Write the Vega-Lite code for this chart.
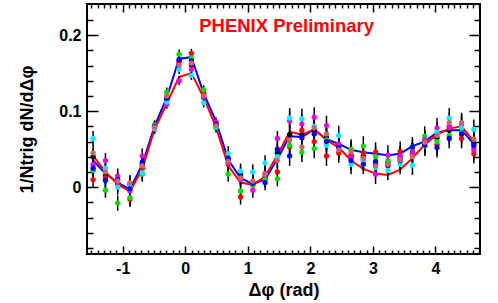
{
 "$schema": "https://vega.github.io/schema/vega-lite/v6.json",
 "width": 393, "height": 250,
 "padding": {"left": 18, "top": 3, "right": 5, "bottom": 5},
 "background": "white",
 "config": {"view": {"stroke": "black", "strokeWidth": 2}, "font": "Liberation Sans"},
 "datasets": {
  "lab": [{"x": 1.62, "y": 0.212, "t": "PHENIX Preliminary"}],
  "fits": [
   {"s":"fitB","x":-1.473,"y":0.035},{"s":"fitB","x":-1.276,"y":0.018},{"s":"fitB","x":-1.080,"y":0.006},{"s":"fitB","x":-0.884,"y":-0.003},
   {"s":"fitB","x":-0.687,"y":0.030},{"s":"fitB","x":-0.491,"y":0.080},{"s":"fitB","x":-0.295,"y":0.118},{"s":"fitB","x":-0.098,"y":0.169},
   {"s":"fitB","x":0.098,"y":0.171},{"s":"fitB","x":0.295,"y":0.123},{"s":"fitB","x":0.491,"y":0.087},{"s":"fitB","x":0.687,"y":0.036},
   {"s":"fitB","x":0.884,"y":0.012},{"s":"fitB","x":1.080,"y":0.004},{"s":"fitB","x":1.276,"y":0.010},{"s":"fitB","x":1.473,"y":0.037},
   {"s":"fitB","x":1.669,"y":0.067},{"s":"fitB","x":1.865,"y":0.066},{"s":"fitB","x":2.062,"y":0.076},{"s":"fitB","x":2.258,"y":0.063},
   {"s":"fitB","x":2.454,"y":0.057},{"s":"fitB","x":2.651,"y":0.049},{"s":"fitB","x":2.847,"y":0.046},{"s":"fitB","x":3.043,"y":0.044},
   {"s":"fitB","x":3.240,"y":0.042},{"s":"fitB","x":3.436,"y":0.044},{"s":"fitB","x":3.632,"y":0.054},{"s":"fitB","x":3.829,"y":0.060},
   {"s":"fitB","x":4.025,"y":0.072},{"s":"fitB","x":4.221,"y":0.075},{"s":"fitB","x":4.418,"y":0.075},{"s":"fitB","x":4.614,"y":0.057},
   {"s":"fitR","x":-1.473,"y":0.041},{"s":"fitR","x":-1.276,"y":0.020},{"s":"fitR","x":-1.080,"y":0.004},{"s":"fitR","x":-0.884,"y":-0.006},
   {"s":"fitR","x":-0.687,"y":0.024},{"s":"fitR","x":-0.491,"y":0.076},{"s":"fitR","x":-0.295,"y":0.110},{"s":"fitR","x":-0.098,"y":0.145},
   {"s":"fitR","x":0.098,"y":0.150},{"s":"fitR","x":0.295,"y":0.118},{"s":"fitR","x":0.491,"y":0.079},{"s":"fitR","x":0.687,"y":0.028},
   {"s":"fitR","x":0.884,"y":0.006},{"s":"fitR","x":1.080,"y":0.003},{"s":"fitR","x":1.276,"y":0.014},{"s":"fitR","x":1.473,"y":0.042},
   {"s":"fitR","x":1.669,"y":0.073},{"s":"fitR","x":1.865,"y":0.069},{"s":"fitR","x":2.062,"y":0.076},{"s":"fitR","x":2.258,"y":0.062},
   {"s":"fitR","x":2.454,"y":0.052},{"s":"fitR","x":2.651,"y":0.035},{"s":"fitR","x":2.847,"y":0.024},{"s":"fitR","x":3.043,"y":0.018},
   {"s":"fitR","x":3.240,"y":0.016},{"s":"fitR","x":3.436,"y":0.023},{"s":"fitR","x":3.632,"y":0.038},{"s":"fitR","x":3.829,"y":0.056},
   {"s":"fitR","x":4.025,"y":0.069},{"s":"fitR","x":4.221,"y":0.077},{"s":"fitR","x":4.418,"y":0.080},{"s":"fitR","x":4.614,"y":0.060}
  ],
  "pts": [
   {"x":-1.473,"s":"k","y":0.040,"e":0.010},{"x":-1.473,"s":"r","y":0.010,"e":0.010},{"x":-1.473,"s":"g","y":0.022,"e":0.010},{"x":-1.473,"s":"m","y":0.030,"e":0.010},{"x":-1.473,"s":"c","y":0.064,"e":0.010},{"x":-1.473,"s":"b","y":0.025,"e":0.010},{"x":-1.473,"s":"p","y":0.045,"e":0.010},
   {"x":-1.276,"s":"k","y":0.015,"e":0.010},{"x":-1.276,"s":"r","y":0.012,"e":0.010},{"x":-1.276,"s":"g","y":-0.004,"e":0.010},{"x":-1.276,"s":"m","y":0.035,"e":0.010},{"x":-1.276,"s":"c","y":0.025,"e":0.010},{"x":-1.276,"s":"b","y":0.009,"e":0.010},{"x":-1.276,"s":"p","y":0.020,"e":0.010},
   {"x":-1.080,"s":"k","y":0.005,"e":0.010},{"x":-1.080,"s":"r","y":0.004,"e":0.010},{"x":-1.080,"s":"g","y":-0.021,"e":0.010},{"x":-1.080,"s":"m","y":0.0145,"e":0.010},{"x":-1.080,"s":"c","y":0.000,"e":0.010},{"x":-1.080,"s":"b","y":0.010,"e":0.010},{"x":-1.080,"s":"p","y":0.008,"e":0.010},
   {"x":-0.884,"s":"k","y":0.004,"e":0.010},{"x":-0.884,"s":"r","y":-0.016,"e":0.010},{"x":-0.884,"s":"g","y":-0.014,"e":0.010},{"x":-0.884,"s":"m","y":-0.005,"e":0.010},{"x":-0.884,"s":"c","y":0.001,"e":0.010},{"x":-0.884,"s":"b","y":-0.002,"e":0.010},{"x":-0.884,"s":"p","y":0.006,"e":0.010},
   {"x":-0.687,"s":"k","y":0.030,"e":0.010},{"x":-0.687,"s":"r","y":0.025,"e":0.010},{"x":-0.687,"s":"g","y":0.017,"e":0.010},{"x":-0.687,"s":"m","y":0.041,"e":0.010},{"x":-0.687,"s":"c","y":0.019,"e":0.010},{"x":-0.687,"s":"b","y":0.033,"e":0.010},{"x":-0.687,"s":"p","y":0.028,"e":0.010},
   {"x":-0.491,"s":"k","y":0.078,"e":0.006},{"x":-0.491,"s":"r","y":0.080,"e":0.006},{"x":-0.491,"s":"g","y":0.082,"e":0.006},{"x":-0.491,"s":"m","y":0.076,"e":0.006},{"x":-0.491,"s":"c","y":0.077,"e":0.006},{"x":-0.491,"s":"b","y":0.080,"e":0.006},{"x":-0.491,"s":"p","y":0.079,"e":0.006},
   {"x":-0.295,"s":"k","y":0.118,"e":0.006},{"x":-0.295,"s":"r","y":0.115,"e":0.006},{"x":-0.295,"s":"g","y":0.125,"e":0.006},{"x":-0.295,"s":"m","y":0.109,"e":0.006},{"x":-0.295,"s":"c","y":0.112,"e":0.006},{"x":-0.295,"s":"b","y":0.117,"e":0.006},{"x":-0.295,"s":"p","y":0.120,"e":0.006},
   {"x":-0.098,"s":"k","y":0.166,"e":0.006},{"x":-0.098,"s":"r","y":0.165,"e":0.006},{"x":-0.098,"s":"g","y":0.175,"e":0.006},{"x":-0.098,"s":"m","y":0.140,"e":0.006},{"x":-0.098,"s":"c","y":0.155,"e":0.006},{"x":-0.098,"s":"b","y":0.168,"e":0.006},{"x":-0.098,"s":"p","y":0.160,"e":0.006},
   {"x":0.098,"s":"k","y":0.161,"e":0.006},{"x":0.098,"s":"r","y":0.176,"e":0.006},{"x":0.098,"s":"g","y":0.170,"e":0.006},{"x":0.098,"s":"m","y":0.155,"e":0.006},{"x":0.098,"s":"c","y":0.147,"e":0.006},{"x":0.098,"s":"b","y":0.166,"e":0.006},{"x":0.098,"s":"p","y":0.163,"e":0.006},
   {"x":0.295,"s":"k","y":0.122,"e":0.006},{"x":0.295,"s":"r","y":0.124,"e":0.006},{"x":0.295,"s":"g","y":0.128,"e":0.006},{"x":0.295,"s":"m","y":0.118,"e":0.006},{"x":0.295,"s":"c","y":0.111,"e":0.006},{"x":0.295,"s":"b","y":0.119,"e":0.006},{"x":0.295,"s":"p","y":0.120,"e":0.006},
   {"x":0.491,"s":"k","y":0.084,"e":0.006},{"x":0.491,"s":"r","y":0.082,"e":0.006},{"x":0.491,"s":"g","y":0.078,"e":0.006},{"x":0.491,"s":"m","y":0.086,"e":0.006},{"x":0.491,"s":"c","y":0.080,"e":0.006},{"x":0.491,"s":"b","y":0.083,"e":0.006},{"x":0.491,"s":"p","y":0.081,"e":0.006},
   {"x":0.687,"s":"k","y":0.036,"e":0.010},{"x":0.687,"s":"r","y":0.030,"e":0.010},{"x":0.687,"s":"g","y":0.017,"e":0.010},{"x":0.687,"s":"m","y":0.032,"e":0.010},{"x":0.687,"s":"c","y":0.044,"e":0.010},{"x":0.687,"s":"b","y":0.038,"e":0.010},{"x":0.687,"s":"p","y":0.034,"e":0.010},
   {"x":0.884,"s":"k","y":0.017,"e":0.010},{"x":0.884,"s":"r","y":-0.013,"e":0.010},{"x":0.884,"s":"g","y":-0.005,"e":0.010},{"x":0.884,"s":"m","y":0.010,"e":0.010},{"x":0.884,"s":"c","y":0.021,"e":0.010},{"x":0.884,"s":"b","y":0.014,"e":0.010},{"x":0.884,"s":"p","y":0.012,"e":0.010},
   {"x":1.080,"s":"k","y":0.006,"e":0.010},{"x":1.080,"s":"r","y":0.003,"e":0.010},{"x":1.080,"s":"g","y":0.002,"e":0.010},{"x":1.080,"s":"m","y":-0.004,"e":0.010},{"x":1.080,"s":"c","y":0.020,"e":0.010},{"x":1.080,"s":"b","y":0.005,"e":0.010},{"x":1.080,"s":"p","y":0.008,"e":0.010},
   {"x":1.276,"s":"k","y":0.012,"e":0.010},{"x":1.276,"s":"r","y":0.014,"e":0.010},{"x":1.276,"s":"g","y":0.010,"e":0.010},{"x":1.276,"s":"m","y":0.018,"e":0.010},{"x":1.276,"s":"c","y":0.032,"e":0.010},{"x":1.276,"s":"b","y":0.006,"e":0.010},{"x":1.276,"s":"p","y":0.017,"e":0.010},
   {"x":1.473,"s":"k","y":0.045,"e":0.010},{"x":1.473,"s":"r","y":0.020,"e":0.010},{"x":1.473,"s":"g","y":0.011,"e":0.010},{"x":1.473,"s":"m","y":0.064,"e":0.010},{"x":1.473,"s":"c","y":0.040,"e":0.010},{"x":1.473,"s":"b","y":0.050,"e":0.010},{"x":1.473,"s":"p","y":0.035,"e":0.010},
   {"x":1.669,"s":"k","y":0.069,"e":0.013},{"x":1.669,"s":"r","y":0.053,"e":0.013},{"x":1.669,"s":"g","y":0.055,"e":0.013},{"x":1.669,"s":"m","y":0.087,"e":0.013},{"x":1.669,"s":"c","y":0.091,"e":0.013},{"x":1.669,"s":"b","y":0.041,"e":0.013},{"x":1.669,"s":"p","y":0.062,"e":0.013},
   {"x":1.865,"s":"k","y":0.069,"e":0.013},{"x":1.865,"s":"r","y":0.075,"e":0.013},{"x":1.865,"s":"g","y":0.046,"e":0.013},{"x":1.865,"s":"m","y":0.083,"e":0.013},{"x":1.865,"s":"c","y":0.090,"e":0.013},{"x":1.865,"s":"b","y":0.065,"e":0.013},{"x":1.865,"s":"p","y":0.053,"e":0.013},
   {"x":2.062,"s":"k","y":0.075,"e":0.013},{"x":2.062,"s":"r","y":0.060,"e":0.013},{"x":2.062,"s":"g","y":0.051,"e":0.013},{"x":2.062,"s":"m","y":0.092,"e":0.013},{"x":2.062,"s":"c","y":0.080,"e":0.013},{"x":2.062,"s":"b","y":0.070,"e":0.013},{"x":2.062,"s":"p","y":0.078,"e":0.013},
   {"x":2.258,"s":"k","y":0.065,"e":0.013},{"x":2.258,"s":"r","y":0.041,"e":0.013},{"x":2.258,"s":"g","y":0.062,"e":0.013},{"x":2.258,"s":"m","y":0.081,"e":0.013},{"x":2.258,"s":"c","y":0.055,"e":0.013},{"x":2.258,"s":"b","y":0.060,"e":0.013},{"x":2.258,"s":"p","y":0.070,"e":0.013},
   {"x":2.454,"s":"k","y":0.055,"e":0.013},{"x":2.454,"s":"r","y":0.045,"e":0.013},{"x":2.454,"s":"g","y":0.053,"e":0.013},{"x":2.454,"s":"m","y":0.057,"e":0.013},{"x":2.454,"s":"c","y":0.068,"e":0.013},{"x":2.454,"s":"b","y":0.052,"e":0.013},{"x":2.454,"s":"p","y":0.049,"e":0.013},
   {"x":2.651,"s":"k","y":0.040,"e":0.013},{"x":2.651,"s":"r","y":0.042,"e":0.013},{"x":2.651,"s":"g","y":0.050,"e":0.013},{"x":2.651,"s":"m","y":0.039,"e":0.013},{"x":2.651,"s":"c","y":0.030,"e":0.013},{"x":2.651,"s":"b","y":0.035,"e":0.013},{"x":2.651,"s":"p","y":0.047,"e":0.013},
   {"x":2.847,"s":"k","y":0.040,"e":0.013},{"x":2.847,"s":"r","y":0.045,"e":0.013},{"x":2.847,"s":"g","y":0.054,"e":0.013},{"x":2.847,"s":"m","y":0.036,"e":0.013},{"x":2.847,"s":"c","y":0.034,"e":0.013},{"x":2.847,"s":"b","y":0.030,"e":0.013},{"x":2.847,"s":"p","y":0.038,"e":0.013},
   {"x":3.043,"s":"k","y":0.030,"e":0.013},{"x":3.043,"s":"r","y":0.046,"e":0.013},{"x":3.043,"s":"g","y":0.040,"e":0.013},{"x":3.043,"s":"m","y":0.017,"e":0.013},{"x":3.043,"s":"c","y":0.026,"e":0.013},{"x":3.043,"s":"b","y":0.034,"e":0.013},{"x":3.043,"s":"p","y":0.028,"e":0.013},
   {"x":3.240,"s":"k","y":0.032,"e":0.013},{"x":3.240,"s":"r","y":0.028,"e":0.013},{"x":3.240,"s":"g","y":0.035,"e":0.013},{"x":3.240,"s":"m","y":0.042,"e":0.013},{"x":3.240,"s":"c","y":0.022,"e":0.013},{"x":3.240,"s":"b","y":0.029,"e":0.013},{"x":3.240,"s":"p","y":0.030,"e":0.013},
   {"x":3.436,"s":"k","y":0.038,"e":0.013},{"x":3.436,"s":"r","y":0.047,"e":0.013},{"x":3.436,"s":"g","y":0.040,"e":0.013},{"x":3.436,"s":"m","y":0.041,"e":0.013},{"x":3.436,"s":"c","y":0.030,"e":0.013},{"x":3.436,"s":"b","y":0.035,"e":0.013},{"x":3.436,"s":"p","y":0.036,"e":0.013},
   {"x":3.632,"s":"k","y":0.045,"e":0.013},{"x":3.632,"s":"r","y":0.042,"e":0.013},{"x":3.632,"s":"g","y":0.050,"e":0.013},{"x":3.632,"s":"m","y":0.046,"e":0.013},{"x":3.632,"s":"c","y":0.029,"e":0.013},{"x":3.632,"s":"b","y":0.053,"e":0.013},{"x":3.632,"s":"p","y":0.040,"e":0.013},
   {"x":3.829,"s":"k","y":0.060,"e":0.013},{"x":3.829,"s":"r","y":0.058,"e":0.013},{"x":3.829,"s":"g","y":0.067,"e":0.013},{"x":3.829,"s":"m","y":0.062,"e":0.013},{"x":3.829,"s":"c","y":0.054,"e":0.013},{"x":3.829,"s":"b","y":0.055,"e":0.013},{"x":3.829,"s":"p","y":0.059,"e":0.013},
   {"x":4.025,"s":"k","y":0.065,"e":0.013},{"x":4.025,"s":"r","y":0.056,"e":0.013},{"x":4.025,"s":"g","y":0.060,"e":0.013},{"x":4.025,"s":"m","y":0.078,"e":0.013},{"x":4.025,"s":"c","y":0.072,"e":0.013},{"x":4.025,"s":"b","y":0.052,"e":0.013},{"x":4.025,"s":"p","y":0.068,"e":0.013},
   {"x":4.221,"s":"k","y":0.075,"e":0.013},{"x":4.221,"s":"r","y":0.080,"e":0.013},{"x":4.221,"s":"g","y":0.068,"e":0.013},{"x":4.221,"s":"m","y":0.078,"e":0.013},{"x":4.221,"s":"c","y":0.091,"e":0.013},{"x":4.221,"s":"b","y":0.064,"e":0.013},{"x":4.221,"s":"p","y":0.085,"e":0.013},
   {"x":4.418,"s":"k","y":0.075,"e":0.013},{"x":4.418,"s":"r","y":0.064,"e":0.013},{"x":4.418,"s":"g","y":0.072,"e":0.013},{"x":4.418,"s":"m","y":0.083,"e":0.013},{"x":4.418,"s":"c","y":0.078,"e":0.013},{"x":4.418,"s":"b","y":0.070,"e":0.013},{"x":4.418,"s":"p","y":0.085,"e":0.013},
   {"x":4.614,"s":"k","y":0.058,"e":0.013},{"x":4.614,"s":"r","y":0.044,"e":0.013},{"x":4.614,"s":"g","y":0.052,"e":0.013},{"x":4.614,"s":"m","y":0.049,"e":0.013},{"x":4.614,"s":"c","y":0.076,"e":0.013},{"x":4.614,"s":"b","y":0.055,"e":0.013},{"x":4.614,"s":"p","y":0.063,"e":0.013}
  ]
 },
 "resolve": {"axis": {"x": "independent", "y": "independent"}},
 "layer": [
  {
   "data": {"name": "fits"},
   "mark": {"type": "line", "strokeWidth": 2},
   "encoding": {
    "x": {"field": "x", "type": "quantitative",
     "scale": {"domain": [-1.5708, 4.7124], "nice": false, "zero": false},
     "axis": {"orient": "bottom", "domain": false, "grid": false,
      "values": [-1.5,-1.4,-1.3,-1.2,-1.1,-1,-0.9,-0.8,-0.7,-0.6,-0.5,-0.4,-0.3,-0.2,-0.1,0,0.1,0.2,0.3,0.4,0.5,0.6,0.7,0.8,0.9,1,1.1,1.2,1.3,1.4,1.5,1.6,1.7,1.8,1.9,2,2.1,2.2,2.3,2.4,2.5,2.6,2.7,2.8,2.9,3,3.1,3.2,3.3,3.4,3.5,3.6,3.7,3.8,3.9,4,4.1,4.2,4.3,4.4,4.5,4.6,4.7],
      "labelExpr": "abs(datum.value - round(datum.value)) < 0.001 ? '' + round(datum.value) : ''",
      "tickSize": {"condition": {"test": "abs(datum.value - round(datum.value)) < 0.001", "value": -8}, "value": -4},
      "tickColor": "black", "tickWidth": 1.5,
      "labelFont": "Liberation Sans", "labelFontWeight": "bold", "labelFontSize": 16, "labelColor": "black",
      "labelPadding": 14, "labelOverlap": false, "labelFlush": false,
      "title": "Δφ (rad)", "titleFont": "Liberation Sans", "titleFontSize": 18, "titleFontWeight": "bold", "titleColor": "black", "titlePadding": 1}},
    "y": {"field": "y", "type": "quantitative",
     "scale": {"domain": [-0.088, 0.241], "nice": false, "zero": false},
     "axis": {"orient": "left", "domain": false, "grid": false,
      "values": [-0.08,-0.06,-0.04,-0.02,0,0.02,0.04,0.06,0.08,0.1,0.12,0.14,0.16,0.18,0.2,0.22],
      "labelExpr": "abs(datum.value*10 - round(datum.value*10)) < 0.001 ? (round(datum.value*10) == 0 ? '0' : '0.' + round(datum.value*10)) : ''",
      "tickSize": {"condition": {"test": "abs(datum.value*10 - round(datum.value*10)) < 0.001", "value": -11}, "value": -6},
      "tickColor": "black", "tickWidth": 1.5,
      "labelFont": "Liberation Sans", "labelFontWeight": "bold", "labelFontSize": 16, "labelColor": "black",
      "labelPadding": 17, "labelOverlap": false, "labelFlush": false,
      "title": "1/Ntrig dN/dΔφ", "titleFont": "Liberation Sans", "titleFontSize": 18, "titleFontWeight": "bold", "titleColor": "black", "titlePadding": 22}},
    "color": {"field": "s", "type": "nominal", "legend": null,
     "scale": {"domain": ["k","p","g","m","c","b","r","fitR","fitB"], "range": ["#000000","#cc6666","#00dd00","#ee00ee","#00eeff","#0000ff","#ff0000","#ff0000","#0000ff"]}}
   }
  },
  {
   "data": {"name": "pts"},
   "mark": {"type": "errorbar", "color": "black", "thickness": 1.5},
   "encoding": {
    "x": {"field": "x", "type": "quantitative", "axis": null},
    "y": {"field": "y", "type": "quantitative", "axis": null},
    "yError": {"field": "e"}
   }
  },
  {
   "data": {"name": "pts"},
   "mark": {"type": "circle", "size": 28, "opacity": 1},
   "encoding": {
    "x": {"field": "x", "type": "quantitative", "axis": null},
    "y": {"field": "y", "type": "quantitative", "axis": null},
    "color": {"field": "s", "type": "nominal", "legend": null}
   }
  },
  {
   "data": {"name": "lab"},
   "mark": {"type": "text", "color": "#ff0000", "font": "Liberation Sans", "fontWeight": "bold", "fontSize": 18.5, "align": "center", "baseline": "middle"},
   "encoding": {
    "text": {"field": "t"},
    "x": {"field": "x", "type": "quantitative",
     "axis": {"orient": "top", "domain": false, "grid": false, "labels": false, "title": null, "minExtent": 0, "maxExtent": 0, "labelPadding": 0,
      "values": [-1.5,-1.4,-1.3,-1.2,-1.1,-1,-0.9,-0.8,-0.7,-0.6,-0.5,-0.4,-0.3,-0.2,-0.1,0,0.1,0.2,0.3,0.4,0.5,0.6,0.7,0.8,0.9,1,1.1,1.2,1.3,1.4,1.5,1.6,1.7,1.8,1.9,2,2.1,2.2,2.3,2.4,2.5,2.6,2.7,2.8,2.9,3,3.1,3.2,3.3,3.4,3.5,3.6,3.7,3.8,3.9,4,4.1,4.2,4.3,4.4,4.5,4.6,4.7],
      "tickSize": {"condition": {"test": "abs(datum.value - round(datum.value)) < 0.001", "value": -8}, "value": -4},
      "tickColor": "black", "tickWidth": 1.5}},
    "y": {"field": "y", "type": "quantitative",
     "axis": {"orient": "right", "domain": false, "grid": false, "labels": false, "title": null, "minExtent": 0, "maxExtent": 0, "labelPadding": 0,
      "values": [-0.08,-0.06,-0.04,-0.02,0,0.02,0.04,0.06,0.08,0.1,0.12,0.14,0.16,0.18,0.2,0.22],
      "tickSize": {"condition": {"test": "abs(datum.value*10 - round(datum.value*10)) < 0.001", "value": -11}, "value": -6},
      "tickColor": "black", "tickWidth": 1.5}}
   }
  }
 ]
}
